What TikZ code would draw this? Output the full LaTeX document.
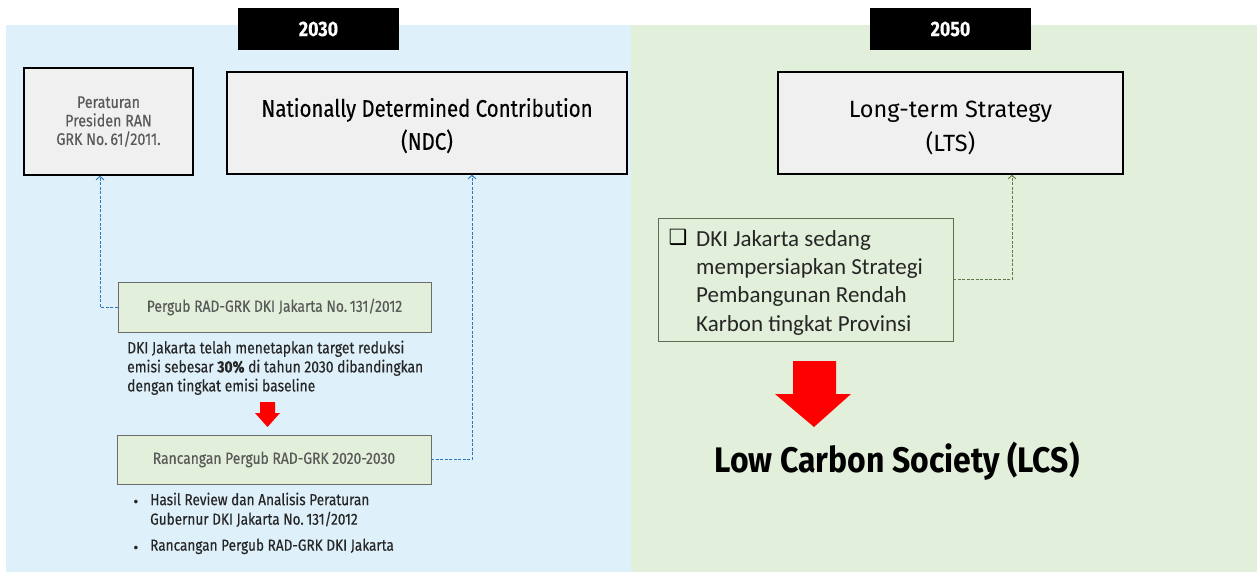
\documentclass[tikz,border=0pt]{standalone}
\usepackage{fontspec}
\usetikzlibrary{arrows.meta}
\newfontfamily\dinf{Fira Sans}[FakeStretch=0.85,FakeBold=0.3]
\newfontfamily\dinm{Fira Sans}[FakeStretch=0.9]
\newfontfamily\dinw{Fira Sans}
\newfontfamily\calf{Carlito}
\newfontfamily\symf{DejaVu Sans}
\definecolor{bluebg}{HTML}{DEF0FA}
\definecolor{greenbg}{HTML}{E2EFDA}
\definecolor{boxgray}{HTML}{F0F0F0}
\definecolor{boxgreen}{HTML}{E2EFDA}
\definecolor{txtgray}{HTML}{595959}
\definecolor{txtdark}{HTML}{262626}
\definecolor{linkblue}{HTML}{2E75B6}
\definecolor{linkolive}{HTML}{5E7A45}
\definecolor{olivebd}{HTML}{5F6B55}
\definecolor{arrowred}{HTML}{FF0000}
\begin{document}
\begin{tikzpicture}[x=1pt,y=-1pt,
  yearbox/.style={fill=black,text=white,inner sep=0,
    minimum width=161pt,minimum height=42pt,
    font=\dinf\bfseries\fontsize{21}{22}\selectfont},
  topbox/.style={draw=black,line width=1.6pt,fill=boxgray,align=center,inner sep=0},
  regbox/.style={draw=gray!85!black,line width=0.8pt,fill=boxgreen,text=txtgray,inner sep=0,
    font=\dinf\fontsize{16.3}{18}\selectfont},
  bodytext/.style={anchor=north west,align=left,inner sep=0,text=txtdark,
    font=\dinf\fontsize{16.3}{19}\selectfont},
  listtext/.style={anchor=north west,align=left,inner sep=0,text=txtdark,
    font=\dinf\fontsize{16}{19.5}\selectfont},
  bulletdot/.style={inner sep=0,text=txtdark,font=\dinw\fontsize{16}{19}\selectfont},
  conn/.style={dash pattern=on 3pt off 1.5pt,line width=0.9pt,
    -{Straight Barb[length=3.5pt,width=8pt]}},
  redarrow/.style={fill=arrowred,draw=none}]
\useasboundingbox (0,0) rectangle (1257,575);

% two period panels
\fill[bluebg] (6,25) rectangle (631,572);
\fill[greenbg] (631,25) rectangle (1257,572);

% period labels
\node[yearbox] (y2030) at (318.5,29) {2030};
\node[yearbox] (y2050) at (950.5,29) {2050};

% national references
\node[topbox,text=txtgray,minimum width=169pt,minimum height=107pt,
  font=\dinf\fontsize{16.8}{18.5}\selectfont] (perpres) at (108.5,121.5)
  {Peraturan\\Presiden RAN\\GRK No.\,61/2011.};
\node[topbox,minimum width=400pt,minimum height=102pt,
  font=\dinf\fontsize{24}{33}\selectfont] (ndc) at (427,123)
  {\rule{0pt}{24pt}Nationally Determined Contribution\\(NDC)};
\node[topbox,minimum width=345pt,minimum height=102pt,
  font=\dinw\fontsize{23.5}{34}\selectfont] (lts) at (950.5,123)
  {\rule{0pt}{26pt}Long-term Strategy\\(LTS)};

% provincial regulations
\node[regbox,minimum width=313pt,minimum height=50pt] (pergub) at (274.5,307)
  {Pergub RAD-GRK DKI Jakarta No.\,131/2012};
\node[bodytext] (target) at (127,340.5)
  {DKI Jakarta telah menetapkan target reduksi\\
   emisi sebesar \textbf{30\%} di tahun 2030 dibandingkan\\
   dengan tingkat emisi baseline};
\node[regbox,minimum width=314pt,minimum height=49pt] (rancangan) at (274,459.5)
  {Rancangan Pergub RAD-GRK 2020-2030};

% bullet list
\node[listtext] (item1) at (150,492.5)
  {Hasil Review dan Analisis Peraturan\\Gubernur DKI Jakarta No.\,131/2012};
\node[listtext] (item2) at (150,538.5) {Rancangan Pergub RAD-GRK DKI Jakarta};
\node[bulletdot] (dot1) at (136,503.5) {\textbullet};
\node[bulletdot] (dot2) at (136,549.5) {\textbullet};

% small red arrow between regulations
\fill[redarrow] (260,402) -- (275,402) -- (275,413) -- (280,413) -- (267.5,427)
  -- (255,413) -- (260,413) -- cycle;

% provincial LCS strategy
\node[draw=olivebd,line width=0.9pt,fill=greenbg,minimum width=295pt,
  minimum height=123pt,inner sep=0] (dki) at (805.5,279.5) {};
\node[inner sep=0,font=\symf\fontsize{21}{21}\selectfont] (chk) at (678,237) {❑};
\node[anchor=north west,align=left,inner sep=0,text=txtdark,
  font=\calf\fontsize{23}{28.3}\selectfont] (dkitext) at (696,230)
  {DKI Jakarta sedang\\mempersiapkan Strategi\\Pembangunan Rendah\\Karbon tingkat Provinsi};

% big red arrow and goal
\fill[redarrow] (793,361) -- (836,361) -- (836,394) -- (851,394) -- (814,427)
  -- (775,394) -- (793,394) -- cycle;
\node[inner sep=0,text=black,font=\dinm\bfseries\fontsize{35.5}{40}\selectfont]
  (lcs) at (897,461) {Low Carbon Society (LCS)};

% connectors
\draw[conn,linkblue] (pergub.west) -| ([xshift=-8.5pt]perpres.south);
\draw[conn,linkblue] (rancangan.east) -| ([xshift=45pt]ndc.south);
\draw[conn,linkolive] (dki.east) -| ([xshift=61.5pt]lts.south);
\end{tikzpicture}
\end{document}
